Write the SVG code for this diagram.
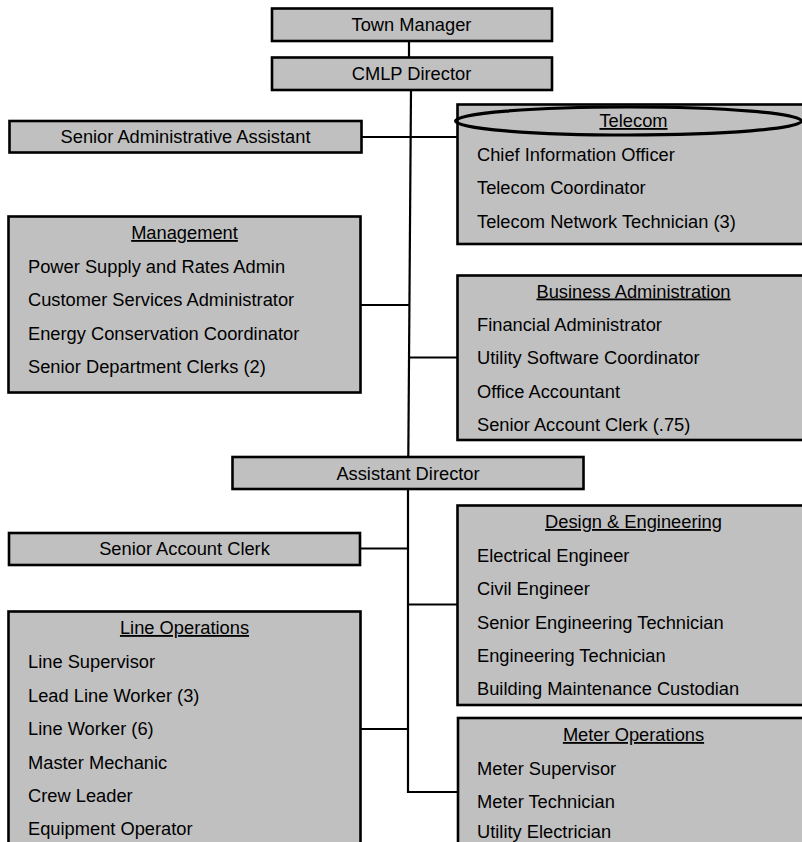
<svg xmlns="http://www.w3.org/2000/svg" width="802" height="842" viewBox="0 0 802 842">
<style>
.box{fill:#c0c0c0;stroke:#000;stroke-width:2.6}
.t{font-family:"Liberation Sans",Arial,sans-serif;font-size:18.3px;fill:#000}
.c{text-anchor:middle}
.u{text-decoration:underline}
.ln{stroke:#000;stroke-width:2.2;fill:none}
</style>
<rect width="802" height="842" fill="#fff"/>
<g id="connectors">
<line class="ln" x1="409" y1="41" x2="409" y2="57"/>
<line class="ln" x1="411" y1="90" x2="408.3" y2="457"/>
<line class="ln" x1="408" y1="489" x2="408" y2="793"/>
<line class="ln" x1="362" y1="137" x2="457" y2="137"/>
<line class="ln" x1="361" y1="305" x2="410" y2="305"/>
<line class="ln" x1="409.5" y1="357.5" x2="457" y2="357.5"/>
<line class="ln" x1="360" y1="548.5" x2="408" y2="548.5"/>
<line class="ln" x1="408" y1="604.5" x2="457" y2="604.5"/>
<line class="ln" x1="361" y1="729" x2="408" y2="729"/>
<line class="ln" x1="407" y1="792" x2="457" y2="792"/>
</g>
<g id="town-manager">
<rect class="box" x="272" y="8.5" width="280" height="32.5"/>
<text class="t c" x="411.5" y="31">Town Manager</text>
</g>
<g id="cmlp-director">
<rect class="box" x="272" y="57.5" width="280" height="32.5"/>
<text class="t c" x="411.5" y="80">CMLP Director</text>
</g>
<g id="senior-admin-assistant">
<rect class="box" x="9.5" y="121" width="352" height="31.5"/>
<text class="t c" x="185.5" y="143">Senior Administrative Assistant</text>
</g>
<g id="telecom">
<rect class="box" x="457.5" y="104.5" width="360" height="139.5"/>
<ellipse cx="628.5" cy="121" rx="173" ry="14" fill="none" stroke="#000" stroke-width="3.2"/>
<text class="t c u" x="633.5" y="127">Telecom</text>
<text class="t" x="477" y="161">Chief Information Officer</text>
<text class="t" x="477" y="194">Telecom Coordinator</text>
<text class="t" x="477" y="227.5">Telecom Network Technician (3)</text>
</g>
<g id="management">
<rect class="box" x="8.5" y="216.5" width="352" height="176"/>
<text class="t c u" x="184.5" y="239">Management</text>
<text class="t" x="28" y="272.5">Power Supply and Rates Admin</text>
<text class="t" x="28" y="306">Customer Services Administrator</text>
<text class="t" x="28" y="339.5">Energy Conservation Coordinator</text>
<text class="t" x="28" y="373">Senior Department Clerks (2)</text>
</g>
<g id="business-administration">
<rect class="box" x="457.5" y="275.5" width="360" height="164.5"/>
<text class="t c u" x="633.5" y="297.5">Business Administration</text>
<text class="t" x="477" y="331">Financial Administrator</text>
<text class="t" x="477" y="364">Utility Software Coordinator</text>
<text class="t" x="477" y="397.5">Office Accountant</text>
<text class="t" x="477" y="431">Senior Account Clerk (.75)</text>
</g>
<g id="assistant-director">
<rect class="box" x="232.5" y="457" width="351" height="32"/>
<text class="t c" x="408" y="479.5">Assistant Director</text>
</g>
<g id="senior-account-clerk">
<rect class="box" x="9" y="533" width="351" height="32"/>
<text class="t c" x="184.5" y="555">Senior Account Clerk</text>
</g>
<g id="design-engineering">
<rect class="box" x="457.5" y="505.5" width="360" height="199.5"/>
<text class="t c u" x="633.5" y="528">Design &amp; Engineering</text>
<text class="t" x="477" y="561.5">Electrical Engineer</text>
<text class="t" x="477" y="595">Civil Engineer</text>
<text class="t" x="477" y="628.5">Senior Engineering Technician</text>
<text class="t" x="477" y="662">Engineering Technician</text>
<text class="t" x="477" y="695">Building Maintenance Custodian</text>
</g>
<g id="line-operations">
<rect class="box" x="8.5" y="611.5" width="352" height="250"/>
<text class="t c u" x="184.5" y="634">Line Operations</text>
<text class="t" x="28" y="668">Line Supervisor</text>
<text class="t" x="28" y="701.5">Lead Line Worker (3)</text>
<text class="t" x="28" y="735">Line Worker (6)</text>
<text class="t" x="28" y="768.5">Master Mechanic</text>
<text class="t" x="28" y="802">Crew Leader</text>
<text class="t" x="28" y="835">Equipment Operator</text>
</g>
<g id="meter-operations">
<rect class="box" x="458" y="718" width="360" height="150"/>
<text class="t c u" x="633.5" y="741">Meter Operations</text>
<text class="t" x="477" y="774.5">Meter Supervisor</text>
<text class="t" x="477" y="808">Meter Technician</text>
<text class="t" x="477" y="837.5">Utility Electrician</text>
</g>
</svg>
